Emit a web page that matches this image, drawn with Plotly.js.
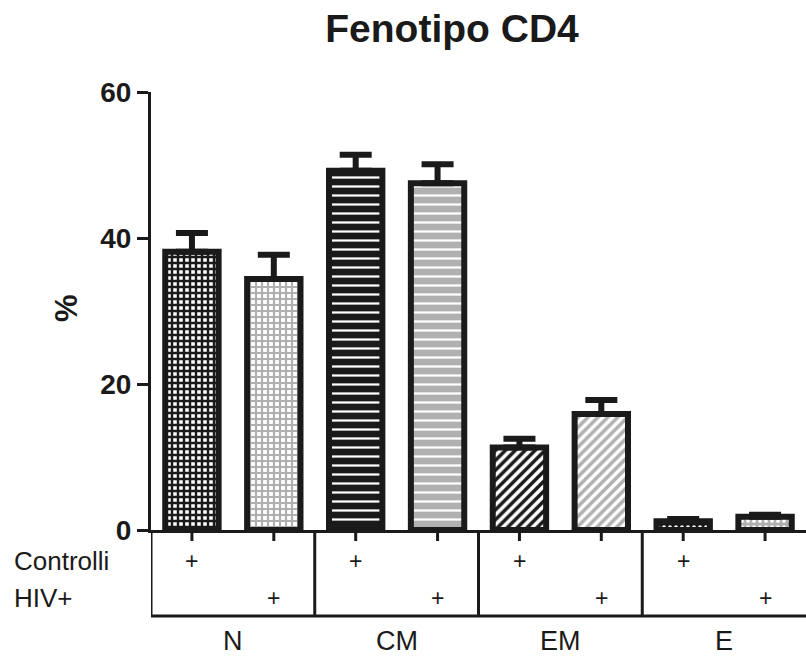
<!DOCTYPE html>
<html>
<head>
<meta charset="utf-8">
<script src="https://cdn.plot.ly/plotly-3.0.1.min.js"></script>
<style>html,body{margin:0;padding:0;background:#fff;}#chart{width:806px;height:659px;}</style>
</head>
<body>
<div id="chart"></div>
<script>
// ---- data ----
const groups = ['N', 'CM', 'EM', 'E'];
const seriesNames = ['Controlli', 'HIV+'];
const controlli = [38.1, 49.2, 11.3, 1.2];
const controlliErr = [2.6, 2.2, 1.2, 0.3];
const hiv = [34.4, 47.5, 15.9, 1.8];
const hivErr = [3.3, 2.6, 1.9, 0.3];
const yTicks = [0, 20, 40, 60];

// ---- styles ----
const INK = '#1a1a1a';
const FONT = 'Liberation Sans, Arial, sans-serif';
const GRAY = '#b0b0b0';

const ctrlPattern = {
  shape: ['+', '-', '/', '.'],
  fgcolor: [INK, '#ffffff', INK, '#ffffff'],
  bgcolor: ['#ffffff', INK, '#ffffff', INK],
  size: [6, 9, 7, 6],
  solidity: [0.65, 0.25, 0.5, 0.3],
  fillmode: 'replace'
};
const hivPattern = {
  shape: ['+', '-', '/', '.'],
  fgcolor: [GRAY, '#ffffff', GRAY, '#ffffff'],
  bgcolor: ['#ffffff', GRAY, '#ffffff', GRAY],
  size: [6, 9, 7, 6],
  solidity: [0.6, 0.25, 0.5, 0.3],
  fillmode: 'replace'
};

function barTrace(name, y, err, pattern) {
  return {
    type: 'bar', name: name, x: groups, y: y,
    marker: { color: '#ffffff', line: { color: INK, width: 6 }, pattern: pattern },
    error_y: { type: 'data', array: err, arrayminus: err.map(() => 0), symmetric: false,
               color: INK, thickness: 6, width: 16 },
    hoverinfo: 'skip'
  };
}

const traces = [
  barTrace(seriesNames[0], controlli, controlliErr, ctrlPattern),
  barTrace(seriesNames[1], hiv, hivErr, hivPattern)
];

// ---- table below the axis ----
const tableBottom = -86 / 438;
const shapes = [];
const annotations = [];
const offsets = [-0.25, 0.25];
const rowY = [-31 / 438, -68 / 438];

groups.forEach((g, i) => {
  shapes.push({ type: 'line', xref: 'x', yref: 'paper', x0: i - 0.5, x1: i - 0.5, y0: 0, y1: tableBottom,
                line: { color: INK, width: 3 } });
  offsets.forEach((o, s) => {
    shapes.push({ type: 'line', xref: 'x', yref: 'paper', x0: i + o, x1: i + o, y0: 0, y1: -11 / 438,
                  line: { color: INK, width: 3 } });
    annotations.push({ xref: 'x', yref: 'paper', x: i + o, y: rowY[s], text: '+', showarrow: false,
                       xanchor: 'center', yanchor: 'middle', font: { family: FONT, size: 23, color: INK } });
  });
  annotations.push({ xref: 'x', yref: 'paper', x: i, y: -111 / 438, text: g, showarrow: false,
                     xanchor: 'center', yanchor: 'middle', borderpad: 0,
                     font: { family: FONT, size: 27, color: INK } });
});
shapes.push({ type: 'line', xref: 'x', yref: 'paper', x0: -0.5, x1: 3.5, y0: tableBottom, y1: tableBottom,
              line: { color: INK, width: 3 } });

seriesNames.forEach((n, s) => {
  annotations.push({ xref: 'paper', yref: 'paper', x: -139 / 655, y: rowY[s], text: n, showarrow: false,
                     xanchor: 'left', yanchor: 'middle', font: { family: FONT, size: 26, color: INK } });
});

annotations.push({ xref: 'paper', yref: 'paper', x: -85 / 655, y: 222 / 438, text: '<b>%</b>', textangle: -90,
                   showarrow: false, xanchor: 'center', yanchor: 'middle', font: { family: FONT, size: 31, color: INK } });

const layout = {
  width: 806, height: 659,
  margin: { l: 151, r: 0, t: 92, b: 129, pad: 0 },
  paper_bgcolor: '#ffffff', plot_bgcolor: '#ffffff',
  showlegend: false,
  barmode: 'group', bargap: 0, bargroupgap: 0.348,
  title: { text: '<b>Fenotipo CD4</b>', font: { family: FONT, size: 39, color: INK },
           xref: 'container', yref: 'container', x: 452 / 806, y: 1 - 28 / 659,
           xanchor: 'center', yanchor: 'middle' },
  xaxis: { type: 'category', range: [-0.5, 3.5], showline: true, linecolor: INK, linewidth: 3,
           showticklabels: false, ticks: '', showgrid: false, zeroline: false, fixedrange: true },
  yaxis: { range: [0, 60], tickvals: yTicks, ticktext: yTicks.map(String), showline: true, linecolor: INK, linewidth: 3,
           ticks: 'outside', ticklen: 11, tickwidth: 3, tickcolor: INK, showgrid: false, zeroline: false,
           tickfont: { family: FONT, size: 28, color: INK, weight: 'bold' }, fixedrange: true },
  shapes: shapes,
  annotations: annotations
};

Plotly.newPlot('chart', traces, layout, { displayModeBar: false, staticPlot: true });
</script>
</body>
</html>
